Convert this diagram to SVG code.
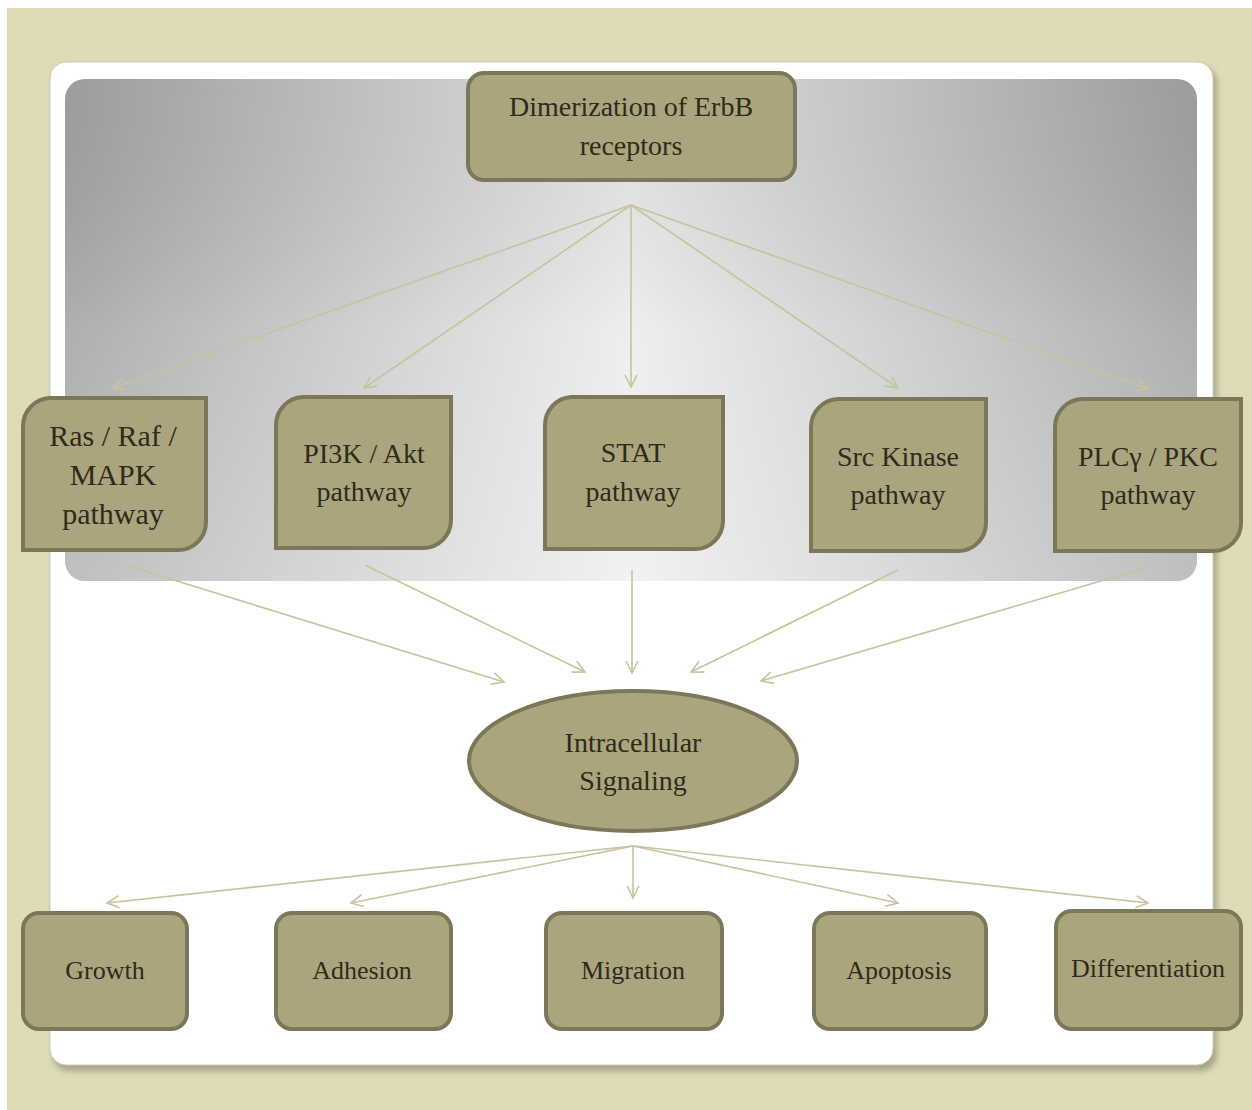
<svg xmlns="http://www.w3.org/2000/svg" width="1252" height="1110" viewBox="0 0 1252 1110">
<defs>
<linearGradient id="gh" x1="0" y1="0" x2="1" y2="0">
<stop offset="0" stop-color="#A4A4A4"/>
<stop offset="0.3" stop-color="#D0D0D0"/>
<stop offset="0.5" stop-color="#ECECEC"/>
<stop offset="0.7" stop-color="#D0D0D0"/>
<stop offset="1" stop-color="#A4A4A4"/>
</linearGradient>
<linearGradient id="gv" x1="0" y1="0" x2="0" y2="1">
<stop offset="0" stop-color="#000" stop-opacity="0.05"/>
<stop offset="0.5" stop-color="#fff" stop-opacity="0.12"/>
<stop offset="1" stop-color="#fff" stop-opacity="0.3"/>
</linearGradient>
<filter id="blur" x="-5%" y="-5%" width="110%" height="110%"><feGaussianBlur stdDeviation="3"/></filter>
<marker id="ah" markerUnits="userSpaceOnUse" markerWidth="16" markerHeight="16" refX="13" refY="7" orient="auto">
<path d="M1,1 L13,7 L1,13" fill="none" stroke="#C6C39E" stroke-width="1.6"/>
</marker>
<style>
.node{fill:#ABA57D;stroke:#7B7758;stroke-width:4}
.t{font-family:"Liberation Serif","DejaVu Serif",serif;fill:#2F2A1B;text-anchor:middle}
.t28{font-size:28px}
.t30{font-size:30px}
.t26{font-size:26px}
.c{stroke:#C6C39E;stroke-width:1.6;fill:none;marker-end:url(#ah)}
</style>
</defs>
<rect x="0" y="0" width="1252" height="1110" fill="#FFFFFF"/>
<rect x="7" y="8" width="1245" height="1102" fill="#E0DBB7"/>
<rect x="53" y="67" width="1164" height="1004" rx="16" fill="#8E8B74" opacity="0.7" filter="url(#blur)"/>
<rect x="50" y="62" width="1163" height="1003" rx="16" fill="#FFFFFF" stroke="#CFCBB6" stroke-width="1"/>
<rect x="65" y="79" width="1132" height="502" rx="20" fill="url(#gh)"/>
<rect x="65" y="79" width="1132" height="502" rx="20" fill="url(#gv)"/>

<g id="connectors">
<line class="c" x1="631" y1="205" x2="113" y2="388"/>
<line class="c" x1="631" y1="205" x2="364" y2="388"/>
<line class="c" x1="631" y1="205" x2="631" y2="387"/>
<line class="c" x1="631" y1="205" x2="898" y2="388"/>
<line class="c" x1="631" y1="205" x2="1148" y2="389"/>
<line class="c" x1="125" y1="565" x2="504" y2="682"/>
<line class="c" x1="365" y1="565" x2="585" y2="672"/>
<line class="c" x1="632" y1="570" x2="632" y2="673"/>
<line class="c" x1="898" y1="570" x2="691" y2="672"/>
<line class="c" x1="1145" y1="568" x2="761" y2="681"/>
<line class="c" x1="633" y1="846" x2="107" y2="903"/>
<line class="c" x1="633" y1="846" x2="351" y2="903"/>
<line class="c" x1="633" y1="846" x2="633" y2="898"/>
<line class="c" x1="633" y1="846" x2="898" y2="903"/>
<line class="c" x1="633" y1="846" x2="1148" y2="903"/>
</g>

<g id="dimerization">
<rect class="node" x="468" y="73" width="327" height="107" rx="16"/>
<text class="t t28" x="631" y="116">Dimerization of ErbB</text>
<text class="t t28" x="631" y="155">receptors</text>
</g>

<g id="ras">
<path class="node" d="M50,398 H206 V522 A28,28 0 0 1 178,550 H23 V426 A28,28 0 0 1 50,398 Z"/>
<text class="t t30" x="113" y="446">Ras / Raf /</text>
<text class="t t30" x="113" y="485">MAPK</text>
<text class="t t30" x="113" y="524">pathway</text>
</g>

<g id="pi3k">
<path class="node" d="M303,397 H451 V520 A28,28 0 0 1 423,548 H276 V425 A28,28 0 0 1 303,397 Z"/>
<text class="t t28" x="364" y="463">PI3K / Akt</text>
<text class="t t28" x="364" y="501">pathway</text>
</g>

<g id="stat">
<path class="node" d="M571,397 H723 V521 A28,28 0 0 1 695,549 H545 V425 A28,28 0 0 1 571,397 Z"/>
<text class="t t28" x="633" y="462">STAT</text>
<text class="t t28" x="633" y="501">pathway</text>
</g>

<g id="src">
<path class="node" d="M838,399 H986 V523 A28,28 0 0 1 958,551 H811 V427 A28,28 0 0 1 838,399 Z"/>
<text class="t t28" x="898" y="466">Src Kinase</text>
<text class="t t28" x="898" y="504">pathway</text>
</g>

<g id="plc">
<path class="node" d="M1082,399 H1241 V523 A28,28 0 0 1 1213,551 H1055 V427 A28,28 0 0 1 1082,399 Z"/>
<text class="t t28" x="1148" y="466">PLCγ / PKC</text>
<text class="t t28" x="1148" y="504">pathway</text>
</g>

<g id="intracellular">
<ellipse class="node" cx="633" cy="761" rx="164" ry="70"/>
<text class="t t28" x="633" y="752">Intracellular</text>
<text class="t t28" x="633" y="790">Signaling</text>
</g>

<g id="growth">
<rect class="node" x="23" y="913" width="164" height="116" rx="16"/>
<text class="t t26" x="105" y="979">Growth</text>
</g>
<g id="adhesion">
<rect class="node" x="276" y="913" width="175" height="116" rx="16"/>
<text class="t t26" x="362" y="979">Adhesion</text>
</g>
<g id="migration">
<rect class="node" x="546" y="913" width="176" height="116" rx="16"/>
<text class="t t26" x="633" y="979">Migration</text>
</g>
<g id="apoptosis">
<rect class="node" x="814" y="913" width="172" height="116" rx="16"/>
<text class="t t26" x="899" y="979">Apoptosis</text>
</g>
<g id="differentiation">
<rect class="node" x="1056" y="911" width="185" height="118" rx="16"/>
<text class="t t26" x="1148" y="977">Differentiation</text>
</g>
</svg>
